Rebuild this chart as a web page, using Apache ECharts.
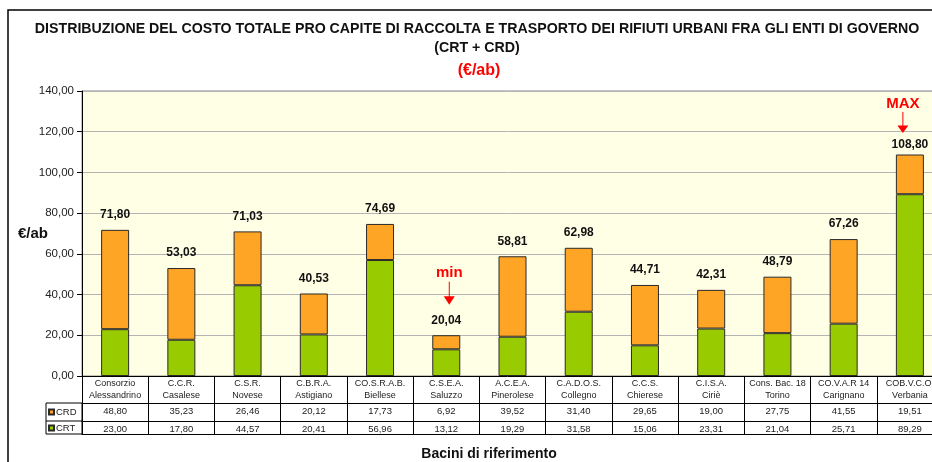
<!DOCTYPE html>
<html>
<head>
<meta charset="utf-8">
<script src="https://cdn.jsdelivr.net/npm/echarts@6/dist/echarts.min.js"></script>
<style>
html,body{margin:0;padding:0;background:#fff;}
#chart{width:932px;height:462px;}
</style>
</head>
<body>
<div id="chart"></div>
<script>
const categories = [
  'Consorzio\nAlessandrino', 'C.C.R.\nCasalese', 'C.S.R.\nNovese', 'C.B.R.A.\nAstigiano',
  'CO.S.R.A.B.\nBiellese', 'C.S.E.A.\nSaluzzo', 'A.C.E.A.\nPinerolese', 'C.A.D.O.S.\nCollegno',
  'C.C.S.\nChierese', 'C.I.S.A.\nCiriè', 'Cons. Bac. 18\nTorino', 'CO.V.A.R 14\nCarignano',
  'COB.V.C.O.\nVerbania'
];
const crt = [23.00, 17.80, 44.57, 20.41, 56.96, 13.12, 19.29, 31.58, 15.06, 23.31, 21.04, 25.71, 89.29];
const crd = [48.80, 35.23, 26.46, 20.12, 17.73, 6.92, 39.52, 31.40, 29.65, 19.00, 27.75, 41.55, 19.51];
const totals = [71.80, 53.03, 71.03, 40.53, 74.69, 20.04, 58.81, 62.98, 44.71, 42.31, 48.79, 67.26, 108.80];
const yTicks = [0, 20, 40, 60, 80, 100, 120, 140];
const minIndex = 5;
const maxIndex = 12;

const fmt = v => v.toFixed(2).replace('.', ',');
const FONT = 'Liberation Sans, Arial, sans-serif';
const ORANGE = '#FFA526';
const GREEN = '#99CC00';
const BORDER = '#2a2a2a';

const chart = echarts.init(document.getElementById('chart'), null, {renderer: 'canvas'});

const tableAxis = (offset, values) => ({
  type: 'category',
  data: categories,
  position: 'bottom',
  offset: offset,
  axisLine: {show: true, lineStyle: {color: '#000', width: 1}},
  axisTick: {show: false},
  splitLine: {show: false},
  axisLabel: values ? {
    show: true, interval: 0, margin: 3, fontFamily: FONT, fontSize: 9.5, lineHeight: 11, color: '#222',
    formatter: (v, i) => fmt(values[i])
  } : {show: false}
});

const option = {
  animation: false,
  backgroundColor: '#ffffff',
  textStyle: {fontFamily: FONT},
  title: [
    {
      text: 'DISTRIBUZIONE DEL COSTO TOTALE PRO CAPITE DI RACCOLTA E TRASPORTO DEI RIFIUTI URBANI FRA GLI ENTI DI GOVERNO\n(CRT + CRD)',
      left: 477, top: 20, textAlign: 'center', padding: 0,
      textStyle: {fontFamily: FONT, fontSize: 14.2, fontWeight: 'bold', color: '#111', lineHeight: 19}
    },
    {
      text: '(€/ab)',
      left: 479, top: 63, textAlign: 'center', padding: 0,
      textStyle: {fontFamily: FONT, fontSize: 16, fontWeight: 'bold', color: '#FF0000'}
    },
    {
      text: 'Bacini di riferimento',
      left: 489, top: 447, textAlign: 'center', padding: 0,
      textStyle: {fontFamily: FONT, fontSize: 14, fontWeight: 'bold', color: '#111'}
    }
  ],
  legend: [
    {
      data: ['CRD'], orient: 'vertical', left: 48, top: 407, padding: 0,
      itemWidth: 5, itemHeight: 5, itemGap: 0, icon: 'rect',
      textStyle: {fontFamily: FONT, fontSize: 9.5, color: '#222', padding: [0, 0, 0, -3]},
      selectedMode: false
    },
    {
      data: ['CRT'], orient: 'vertical', left: 48, top: 423, padding: 0,
      itemWidth: 5, itemHeight: 5, itemGap: 0, icon: 'rect',
      textStyle: {fontFamily: FONT, fontSize: 9.5, color: '#222', padding: [0, 0, 0, -3]},
      selectedMode: false
    }
  ],
  grid: {
    left: 82, top: 91, width: 861, bottom: 86,
    show: true, backgroundColor: '#FFFFE6', borderColor: '#8a8a8a', borderWidth: 1,
    containLabel: false, outerBoundsMode: 'none'
  },
  xAxis: [
    {
      type: 'category',
      data: categories,
      position: 'bottom',
      axisLine: {show: true, lineStyle: {color: '#000', width: 1}},
      axisTick: {show: true, interval: 0, length: 58, alignWithLabel: false, lineStyle: {color: '#000', width: 1}},
      axisLabel: {interval: 0, margin: 2, fontFamily: FONT, fontSize: 9, lineHeight: 12, color: '#222'},
      splitLine: {show: false}
    },
    tableAxis(27, crd),
    tableAxis(45, crt),
    tableAxis(58, null)
  ],
  yAxis: {
    type: 'value',
    min: yTicks[0], max: yTicks[yTicks.length - 1], interval: 20,
    name: '€/ab',
    nameLocation: 'middle', nameRotate: 0, nameGap: 34, nameMoveOverlap: false,
    nameTextStyle: {fontFamily: FONT, fontSize: 15, fontWeight: 'bold', color: '#111'},
    axisLine: {show: true, lineStyle: {color: '#000', width: 1}},
    axisTick: {show: true, length: 5, lineStyle: {color: '#000'}},
    axisLabel: {margin: 8, fontFamily: FONT, fontSize: 11.5, color: '#222', formatter: v => fmt(v)},
    splitLine: {show: true, lineStyle: {color: '#b4b4b4', width: 1}}
  },
  series: [
    {
      name: 'CRT', type: 'bar', stack: 'tot', xAxisIndex: 0,
      data: crt, barWidth: 28,
      itemStyle: {color: GREEN, borderColor: BORDER, borderWidth: 1}
    },
    {
      name: 'CRD', type: 'bar', stack: 'tot', xAxisIndex: 0,
      data: crd.map((v, i) => i === maxIndex
        ? {value: v, label: {distance: 4}}
        : {value: v}),
      barWidth: 28,
      itemStyle: {color: ORANGE, borderColor: BORDER, borderWidth: 1},
      label: {
        show: true, position: 'top', distance: 9,
        fontFamily: FONT, fontSize: 12, fontWeight: 'bold', color: '#111',
        formatter: p => fmt(totals[p.dataIndex])
      },
      markPoint: {
        symbol: 'path://M5,0 L6,0 L6,14 L11,14 L5.5,22 L0,14 L5,14 Z',
        symbolKeepAspect: false,
        itemStyle: {color: '#FF0000'},
        label: {
          show: true, position: 'top', distance: 1,
          fontFamily: FONT, fontSize: 15, fontWeight: 'bold', color: '#FF0000'
        },
        data: [
          {
            coord: [categories[minIndex], totals[minIndex]],
            symbolSize: [11, 23], symbolOffset: [3, -42],
            label: {formatter: 'min'}
          },
          {
            coord: [categories[maxIndex], totals[maxIndex]],
            symbolSize: [11, 21], symbolOffset: [-7, -32],
            label: {formatter: 'MAX'}
          }
        ]
      }
    }
  ],
  graphic: [
    {
      type: 'rect', silent: true, z: 100,
      shape: {x: 8, y: 10, width: 950, height: 480},
      style: {fill: 'none', stroke: '#000', lineWidth: 1.5}
    },
    {
      type: 'rect', silent: true, z: 100,
      shape: {x: 46, y: 403, width: 36, height: 31},
      style: {fill: 'none', stroke: '#000', lineWidth: 1}
    },
    {
      type: 'line', silent: true, z: 100,
      shape: {x1: 46, y1: 421, x2: 82, y2: 421},
      style: {stroke: '#000', lineWidth: 1}
    }
  ]
};

chart.setOption(option);
</script>
</body>
</html>
